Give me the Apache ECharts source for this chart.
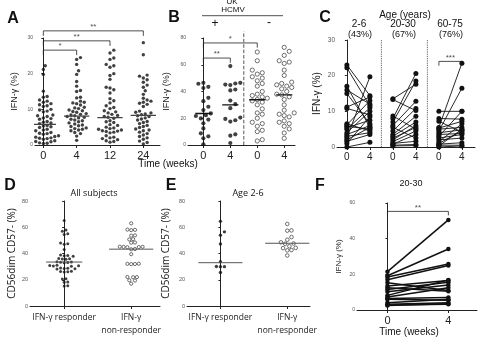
<!DOCTYPE html>
<html>
<head>
<meta charset="utf-8">
<script src="https://cdn.jsdelivr.net/npm/echarts@6/dist/echarts.min.js"></script>
<style>
html,body{margin:0;padding:0;background:#fff}
#main{width:480px;height:337px}
</style>
</head>
<body>
<div id="main"></div>
<script>
// ---- panel A: IFN-g (%) by week
var aCats = ['0', '4', '12', '24'];
var aWeek0 = [22.2, 21.2, 19.8, 15.1, 13.6, 13.4, 12.6, 12.3, 12.0, 11.6, 11.3, 11.0, 10.8, 10.0, 9.8, 9.5, 9.3, 8.4, 8.2, 8.0, 7.6, 7.4, 7.2, 6.6, 6.4, 6.2, 6.0, 5.5, 5.3, 5.1, 4.9, 4.4, 4.2, 4.0, 3.5, 3.3, 3.2, 3.0, 2.6, 2.4, 2.2, 2.0, 1.9, 1.9, 1.8, 1.6, 1.2, 1.0, 0.9, 0.6, 0.5, 0.4];
var aWeek4 = [24.5, 24.0, 22.6, 20.8, 19.8, 17.8, 16.5, 15.3, 15.0, 13.4, 13.2, 12.3, 12.0, 11.8, 11.6, 11.2, 10.6, 10.4, 10.2, 9.8, 9.6, 9.4, 9.2, 8.8, 8.6, 8.4, 8.2, 8.0, 7.8, 7.6, 7.2, 7.0, 6.8, 6.5, 6.2, 5.9, 5.6, 5.4, 5.2, 4.8, 4.6, 4.4, 4.2, 4.0, 3.5, 3.2, 2.5, 1.3];
var aWeek12 = [26.6, 25.8, 24.4, 24.0, 22.6, 22.2, 21.8, 20.0, 19.5, 18.4, 16.2, 16.0, 15.5, 14.6, 13.0, 12.4, 11.8, 11.0, 10.5, 10.2, 9.6, 9.3, 9.0, 8.6, 8.3, 8.0, 7.8, 7.5, 6.8, 6.5, 6.3, 5.7, 5.5, 5.0, 4.8, 4.6, 4.4, 4.2, 4.0, 3.9, 3.8, 3.6, 3.4, 2.6, 2.2, 2.0, 1.8, 1.5, 1.2, 1.0, 0.8];
var aWeek24 = [28.7, 25.3, 19.6, 19.3, 18.8, 18.3, 17.6, 16.8, 16.2, 15.2, 14.2, 13.1, 12.6, 12.3, 12.0, 11.7, 11.4, 10.8, 9.5, 9.2, 9.0, 8.7, 8.5, 8.2, 8.0, 7.6, 7.3, 7.0, 6.6, 6.3, 6.0, 5.5, 5.2, 4.9, 4.5, 4.2, 4.0, 3.6, 3.2, 2.8, 2.4, 2.0, 1.6, 1.1, 0.7, 0.3];
var aMedians = [5.8, 8.1, 7.7, 8.3];
var aSig = [[0, 1, '*', 26.6], [0, 2, '**', 29.2], [0, 3, '**', 32.0]];

// ---- panel B: UK, HCMV+ (filled) / HCMV- (open)
var bCats = ['0', '4', '0', '4'];
var bPos0 = [46.5, 45.8, 43.5, 42.6, 35.3, 32.8, 28.6, 26.1, 23.6, 22.3, 21.7, 19.9, 19.0, 16.2, 12.4, 8.7, 6.5, 5.0, 0.5];
var bPos4 = [59.0, 46.5, 46.0, 45.2, 44.8, 41.5, 40.8, 33.2, 30.5, 27.5, 20.5, 19.5, 18.5, 17.5, 8.0, 7.0, 1.5];
var bNeg0 = [69.5, 63, 56, 54, 53, 51, 50, 48, 46, 44, 40, 38, 37, 36, 35, 34, 33, 32, 30, 27, 24, 23, 20, 17, 16, 14, 11, 10, 4, 3];
var bNeg4 = [73, 70, 67, 63, 62, 61, 56, 52, 47, 46, 46, 45, 44, 43, 42, 40, 38, 37.5, 36, 34, 30, 26, 24, 23, 22, 21, 18, 17, 16, 14, 12, 9, 5];
var bMedians = [23.5, 30, 33.8, 37.5];
var bSig = [[0, 1, '**', 65], [0, 2, '*', 76.3]];

// ---- panel C: paired week 0 / week 4 by age group
var cCats = ['0', '4', '0', '4', '0', '4'];
var cAgeGroups = ['2-6', '20-30', '60-75'];
var cPercents = ['(43%)', '(67%)', '(76%)'];
var c26w0 = [23.0, 22.2, 17.0, 16.0, 15.0, 11.2, 10.8, 6.5, 6.2, 5.8, 5.4, 5.0, 4.0, 3.5, 3.0, 2.5, 2.0, 1.6, 0.0, 1.0];
var c26w4 = [14.4, 11.5, 5.5, 12.0, 6.5, 14.0, 9.0, 4.5, 13.0, 5.0, 7.5, 11.0, 10.0, 6.0, 4.0, 19.7, 5.5, 3.5, 1.3, 8.5];
var c2030w0 = [13.5, 13.3, 8.7, 8.0, 7.0, 6.0, 5.5, 4.5, 3.5, 3.0, 2.0, 1.5, 1.0, 0.8, 0.5, 0.3, 2.5];
var c2030w4 = [17.6, 10.2, 5.0, 20.6, 18.5, 12.8, 2.5, 10.8, 8.6, 7.0, 6.0, 4.5, 1.6, 3.5, 0.7, 0.4, 5.5];
var c6075w0 = [10.0, 8.0, 7.2, 5.3, 5.0, 5.5, 4.5, 4.0, 3.5, 3.0, 2.5, 2.0, 1.5, 1.0, 0.8, 0.5, 0.3, 0.0];
var c6075w4 = [10.0, 7.8, 4.2, 7.2, 5.5, 23.5, 16.5, 4.8, 3.8, 10.0, 3.5, 2.5, 6.5, 4.5, 1.2, 0.5, 5.0, 0.3];
var cSig = [[4, 5, '***', 24.0]];

// ---- panel D: CD56dim CD57- (%), all subjects
var dCats = ['IFN-\u03b3 responder', 'IFN-\u03b3\nnon-responder'];
var dResponder = [65.2, 58, 57, 55, 54.5, 48, 47.5, 47, 43, 38.8, 38.5, 38.3, 38.0, 36.2, 36, 35.8, 35.6, 33.8, 33.6, 33.4, 33.2, 33.0, 31.0, 30.8, 30.6, 30.4, 30.2, 29.0, 28.8, 28.6, 28.4, 28.2, 26.5, 26.3, 26.1, 25.9, 20.8, 20.6, 18.3, 18.1, 15.5, 15.2];
var dNonResponder = [63, 58.2, 58, 57.8, 53.8, 53.6, 50.9, 50.7, 48.4, 48.2, 45.2, 45.1, 45, 44.9, 44.8, 43.4, 43.2, 39.5, 32.2, 32.1, 32, 31.9, 22.1, 22, 21.9, 19.6, 19.4, 17];
var dMedians = [33.5, 43.3];

// ---- panel E: age 2-6
var eResponder = [64.5, 56.5, 54, 47.3, 33.8, 30.1, 30, 29.9, 25.5];
var eNonResponder = [62.5, 57.6, 57.4, 52.5, 50.5, 48.5, 47.6, 47.4, 45.5, 44.3, 44.1, 42.6, 42.4, 38.5];
var eMedians = [33, 47.8];

// ---- panel F: 20-30, paired
var fCats = ['0', '4'];
var fWeek0 = [21.5, 19.2, 18.5, 17.0, 15.3, 13.5, 12.5, 11.5, 10.2, 8.2, 7.3, 6.5, 6.0, 4.0, 3.2, 2.8, 2.5];
var fWeek4 = [50.5, 34.2, 25.8, 25.0, 11.0, 16.5, 10.5, 15.5, 14.0, 16.8, 12.5, 7.0, 5.5, 6.0, 4.0, 3.2, 3.5];
var fSig = [[0, 1, '**', 55.3]];

var FONT = 'Liberation Sans, Arial, sans-serif';
var INK = '#111';

// simple beeswarm: offsets (in x units) so dots d px apart don't overlap
function swarm(vals, pxY, pxX, d) {
    var order = vals.map(function (v, i) { return i; }).sort(function (a, b) { return vals[a] - vals[b]; });
    var placed = [];
    var off = [];
    var step = d * 0.5;
    order.forEach(function (i) {
        var y = vals[i] * pxY;
        for (var k = 0; k < 400; k++) {
            var cand = k === 0 ? 0 : (k % 2 ? 1 : -1) * Math.ceil(k / 2) * step;
            var ok = placed.every(function (p) {
                var dx = p.x - cand, dy = p.y - y;
                return dx * dx + dy * dy >= d * d;
            });
            if (ok) {
                placed.push({x: cand, y: y});
                off[i] = cand / pxX;
                break;
            }
        }
    });
    return off;
}

var series = [];

function dots(g, vals, pos, pxY, pxX, size, gap, open) {
    var off = swarm(vals, pxY, pxX, size + gap);
    series.push({
        type: 'scatter', xAxisIndex: g, yAxisIndex: g, symbolSize: size, silent: true,
        data: vals.map(function (v, i) { return [pos + off[i], v]; }),
        itemStyle: open ? {color: '#fff', borderColor: '#222', borderWidth: 0.8} : {color: INK}
    });
}
function median(g, pos, m, hw, color, width) {
    series.push({
        type: 'line', xAxisIndex: g, yAxisIndex: g, symbol: 'none', silent: true, z: 5,
        data: [[pos - hw, m], [pos + hw, m]],
        lineStyle: {color: color, width: width}
    });
}
function bracket(g, s, drop, fontSize) {
    var a = s[0], b = s[1], y = s[3];
    series.push({
        type: 'line', xAxisIndex: g, yAxisIndex: g, symbol: 'none', clip: false, silent: true,
        data: [[a, y - drop], [a, y], [b, y], [b, y - drop]],
        lineStyle: {color: '#222', width: 0.8}
    });
    series.push({
        type: 'scatter', xAxisIndex: g, yAxisIndex: g, symbolSize: 0, clip: false, silent: true,
        data: [[(a + b) / 2, y]],
        label: {show: true, position: 'top', distance: 0, formatter: s[2], color: '#222', fontSize: fontSize, fontFamily: FONT}
    });
}
function divider(g, x, top, type) {
    series.push({
        type: 'line', xAxisIndex: g, yAxisIndex: g, symbol: 'none', clip: false, silent: true,
        data: [[x, 0], [x, top]],
        lineStyle: {color: '#444', width: 0.9, type: type}
    });
}
function pairs(g, x0, x1, w0, w4, size, width) {
    w0.forEach(function (v, i) {
        series.push({
            type: 'line', xAxisIndex: g, yAxisIndex: g, symbol: 'circle', symbolSize: size, silent: true,
            data: [[x0, v], [x1, w4[i]]],
            itemStyle: {color: INK}, lineStyle: {color: INK, width: width}
        });
    });
}

// A
[aWeek0, aWeek4, aWeek12, aWeek24].forEach(function (vals, i) {
    dots(0, vals, i, 107 / 30, 33.3, 3.4, 0.4, false);
    median(0, i, aMedians[i], 0.38, '#444', 1.2);
});
aSig.forEach(function (s) { bracket(0, s, 1.4, 8); });

// B
[bPos0, bPos4, bNeg0, bNeg4].forEach(function (vals, i) {
    dots(1, vals, i, 107 / 80, 27, 4.2, 0.8, i >= 2);
    median(1, i, bMedians[i], 0.3, '#111', 1.4);
});
bSig.forEach(function (s) { bracket(1, s, 3.5, 8); });
divider(1, 1.5, 85, 'dashed');

// C
pairs(2, 0, 1, c26w0, c26w4, 5, 0.9);
pairs(2, 2, 3, c2030w0, c2030w4, 5, 0.9);
pairs(2, 4, 5, c6075w0, c6075w4, 5, 0.9);
cSig.forEach(function (s) { bracket(2, s, 1.2, 8); });
divider(2, 1.5, 30, 'dotted');
divider(2, 3.5, 30, 'dotted');

// D
dots(3, dResponder, 0, 106.7 / 80, 67, 3.0, 0.6, false);
dots(3, dNonResponder, 1, 106.7 / 80, 67, 3.2, 0.6, true);
median(3, 0, dMedians[0], 0.27, '#555', 1);
median(3, 1, dMedians[1], 0.33, '#555', 1);

// E
dots(4, eResponder, 0, 106.7 / 80, 66.7, 3.4, 0.6, false);
dots(4, eNonResponder, 1, 106.7 / 80, 66.7, 3.6, 0.6, true);
median(4, 0, eMedians[0], 0.33, '#555', 1);
median(4, 1, eMedians[1], 0.33, '#555', 1);

// F
pairs(5, 0, 1, fWeek0, fWeek4, 4.5, 1.5);
fSig.forEach(function (s) { bracket(5, s, 2.2, 8); });

var grids = [
    {left: 35, top: 38, width: 125, height: 107},
    {left: 188, top: 38, width: 107, height: 107},
    {left: 337, top: 40, width: 138, height: 107},
    {left: 30, top: 201, width: 130, height: 107},
    {left: 187, top: 201, width: 123, height: 106},
    {left: 357, top: 203, width: 120, height: 107}
];

function xAx(g, min, max, cats, fontSize) {
    var vals = cats.map(function (c, i) { return i; });
    return {
        type: 'value', gridIndex: g, min: min, max: max,
        splitLine: {show: false},
        axisLine: {show: true, onZero: false, lineStyle: {color: '#222', width: 1}},
        axisTick: {show: true, customValues: vals, length: 3, lineStyle: {color: '#222'}},
        axisLabel: {
            show: true, customValues: vals, margin: 5, color: '#222', fontSize: fontSize, fontFamily: FONT,
            formatter: function (v) { return cats[Math.round(v)]; }
        }
    };
}
function yAx(g, max, interval, name, nameGap, nameSize, labelSize) {
    return {
        type: 'value', gridIndex: g, min: 0, max: max, interval: interval,
        name: name, nameLocation: 'middle', nameRotate: 90, nameGap: nameGap,
        nameTextStyle: {color: '#222', fontSize: nameSize, fontFamily: FONT},
        splitLine: {show: false},
        axisLine: {show: true, lineStyle: {color: '#222', width: 1}},
        axisTick: {show: true, length: 2, lineStyle: {color: '#222'}},
        axisLabel: {color: '#555', fontSize: labelSize, margin: 2, fontFamily: FONT}
    };
}

var xAxes = [
    xAx(0, -0.25, 3.5, aCats, 11),
    xAx(1, -0.57, 3.4, bCats, 11),
    xAx(2, -0.43, 5.57, cCats, 10),
    xAx(3, -0.51, 1.43, dCats, 8.5),
    xAx(4, -0.5, 1.34, dCats, 8.5),
    xAx(5, -0.5, 1.47, fCats, 11)
];
[3, 4].forEach(function (i) {
    xAxes[i].axisLabel.fontFamily = 'Open Sans, sans-serif';
    xAxes[i].axisLabel.lineHeight = 13;
});

var yAxes = [
    yAx(0, 30, 10, 'IFN-\u03b3 (%)', 16, 9, 5),
    yAx(1, 80, 20, 'IFN-\u03b3 (%)', 17, 9, 5),
    yAx(2, 30, 10, 'IFN-\u03b3 (%)', 15, 10, 6.5),
    yAx(3, 80, 20, 'CD56dim CD57- (%)', 13, 10, 5.5),
    yAx(4, 80, 20, 'CD56dim CD57- (%)', 16, 10, 5.5),
    yAx(5, 60, 20, 'IFN-\u03b3 (%)', 14, 8, 5)
];
[3, 4].forEach(function (i) { yAxes[i].nameTextStyle.fontFamily = 'Open Sans, sans-serif'; });

function txt(s, x, y, size, weight, family) {
    return {
        type: 'text', x: x, y: y, silent: true,
        style: {text: s, fill: INK, font: (weight || 'normal') + ' ' + size + 'px ' + (family || FONT), textAlign: 'center', textVerticalAlign: 'middle'}
    };
}

var graphics = [
    txt('A', 13, 19, 16, 'bold'),
    txt('B', 174, 18, 16, 'bold'),
    txt('C', 325, 18, 16, 'bold'),
    txt('D', 10, 186, 16, 'bold'),
    txt('E', 171, 186, 16, 'bold'),
    txt('F', 320, 186, 16, 'bold'),
    txt('Time (weeks)', 168, 164, 10),
    txt('UK', 232, 2, 8),
    txt('HCMV', 233, 10, 8),
    {type: 'line', silent: true, shape: {x1: 202, y1: 15.7, x2: 283, y2: 15.7}, style: {stroke: '#222', lineWidth: 0.8}},
    txt('+', 215, 24, 12),
    txt('-', 269, 23, 12),
    txt('Age (years)', 405, 15, 10),
    txt(cAgeGroups[0], 359, 24, 10),
    txt(cAgeGroups[1], 403, 24, 10),
    txt(cAgeGroups[2], 450, 24, 10),
    txt(cPercents[0], 360, 35, 9),
    txt(cPercents[1], 404, 35, 9),
    txt(cPercents[2], 451, 35, 9),
    txt('All subjects', 94, 193, 9, 'normal', 'Open Sans, sans-serif'),
    txt('Age 2-6', 248, 193, 9, 'normal', 'Open Sans, sans-serif'),
    txt('20-30', 411, 184, 9),
    txt('Time (weeks)', 409, 332, 10)
];

var chart = echarts.init(document.getElementById('main'));
chart.setOption({
    animation: false,
    backgroundColor: '#fff',
    grid: grids,
    xAxis: xAxes,
    yAxis: yAxes,
    series: series,
    graphic: graphics
});
</script>
</body>
</html>
